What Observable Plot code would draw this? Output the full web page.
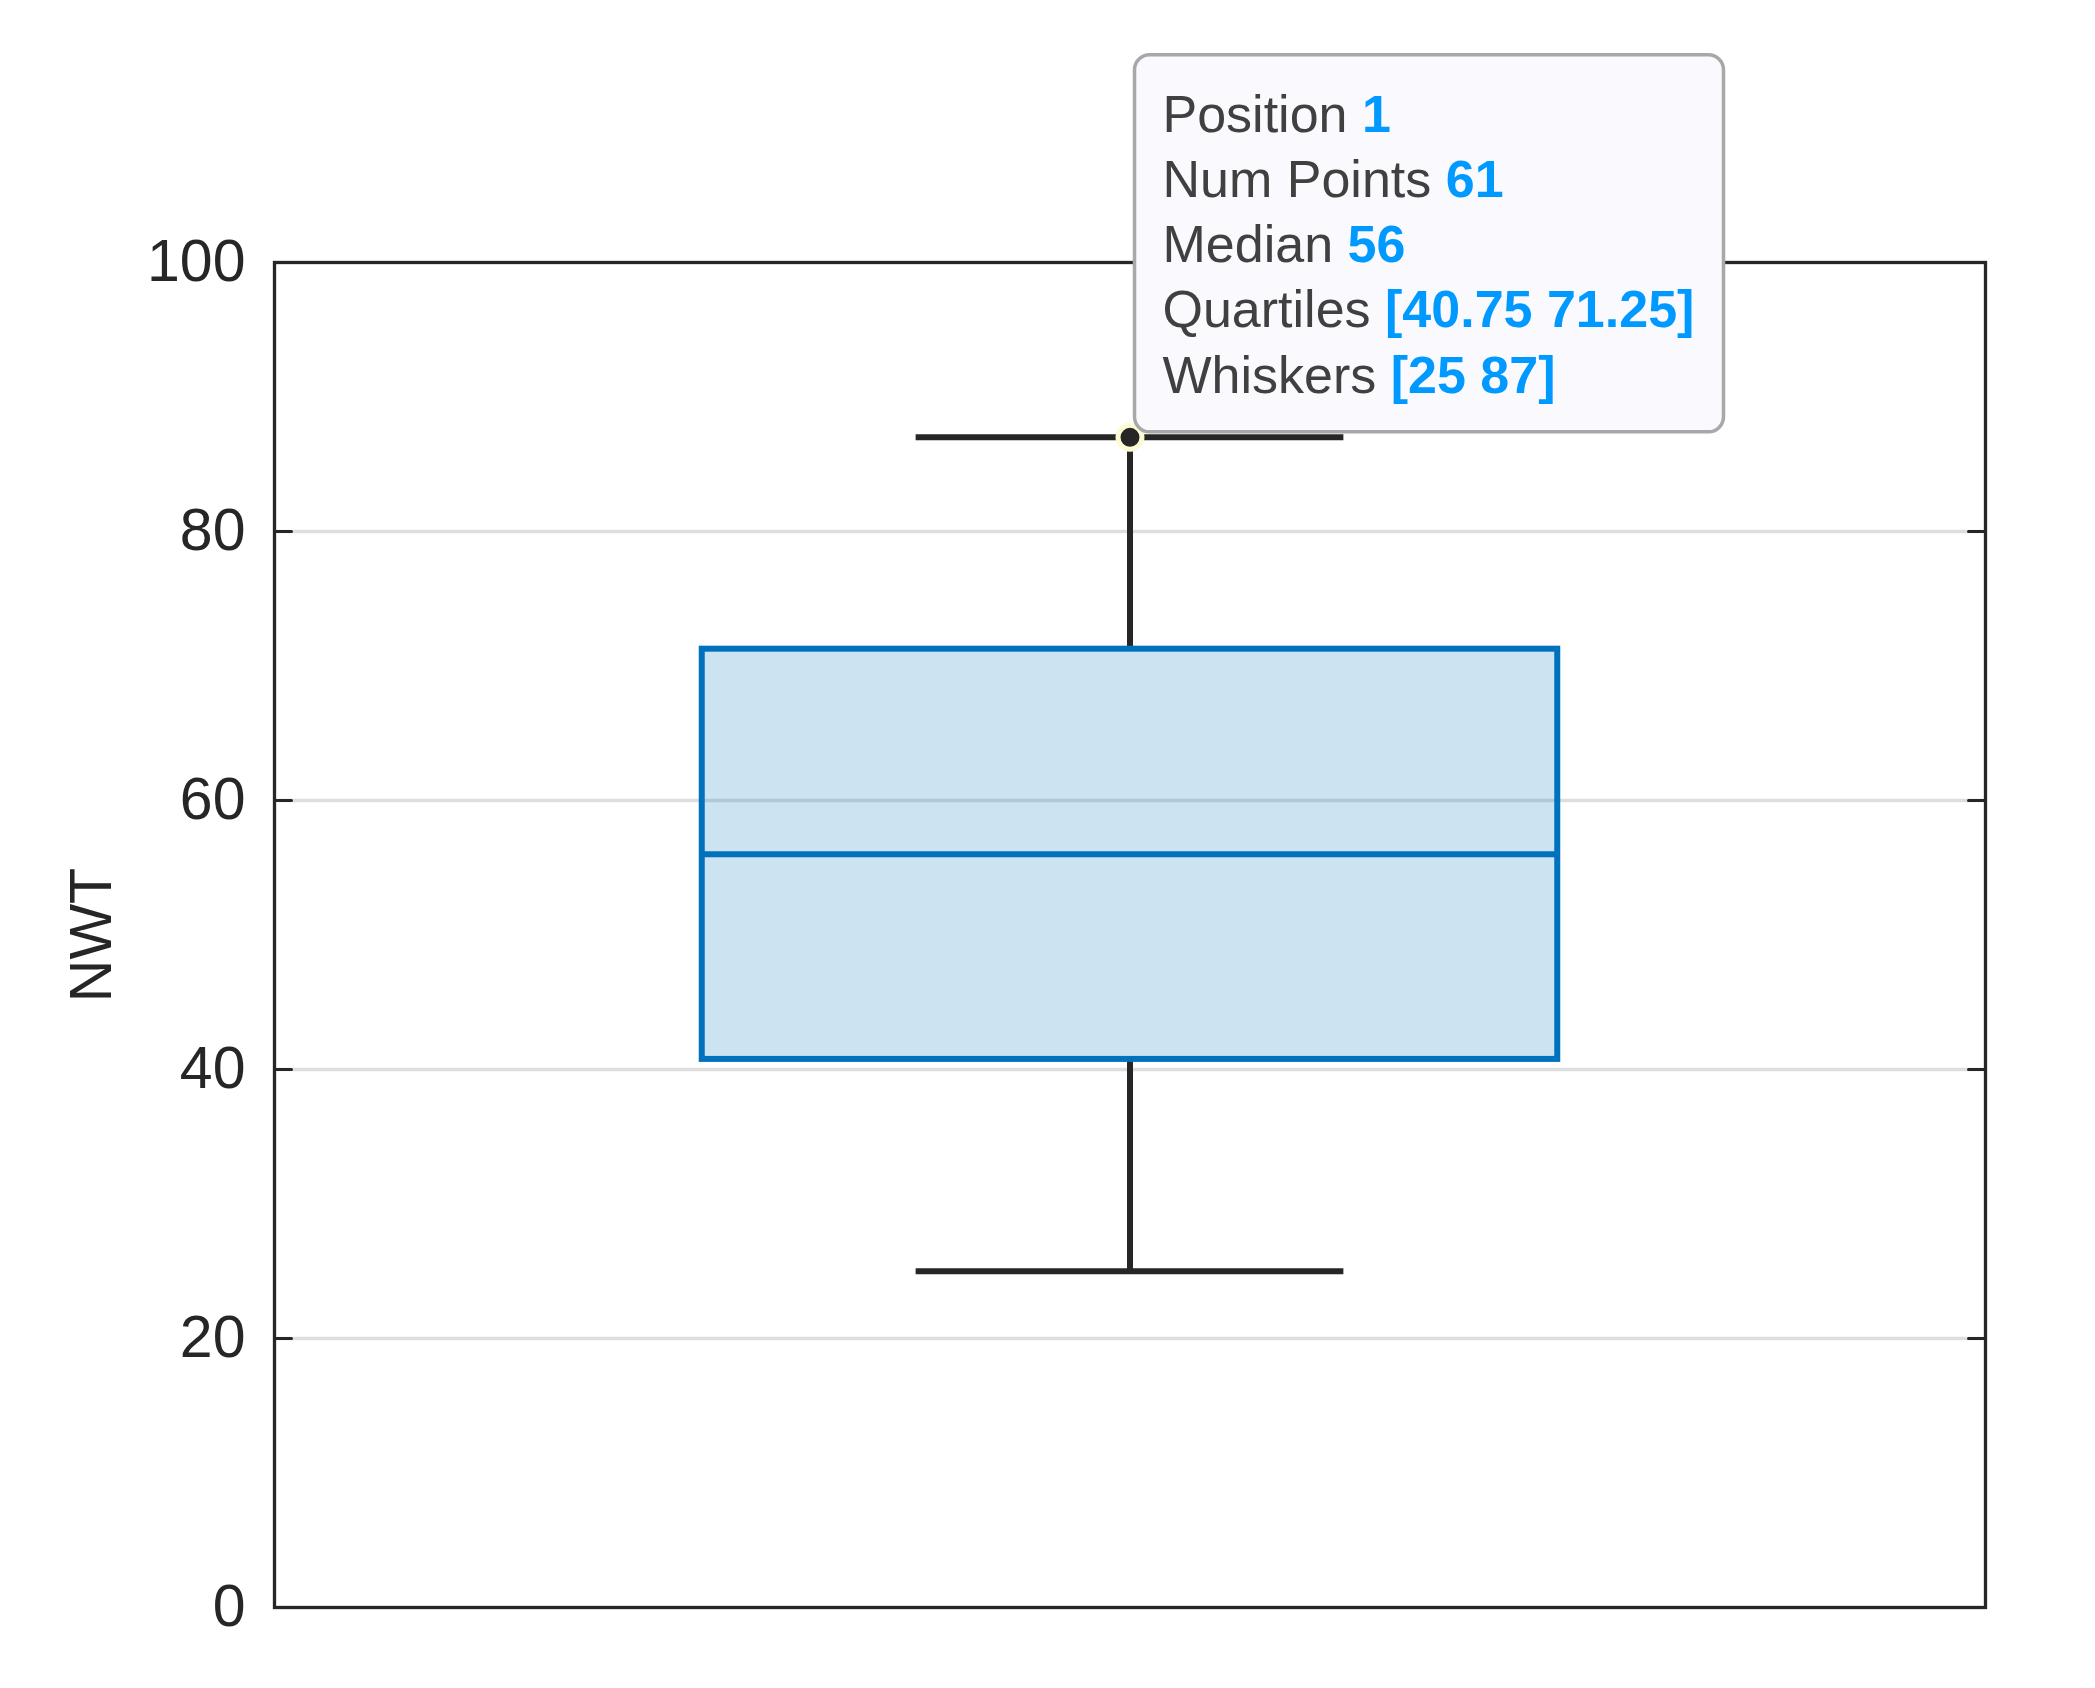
<!DOCTYPE html>
<html>
<head>
<meta charset="utf-8">
<script src="https://cdn.jsdelivr.net/npm/d3@7"></script>
<script src="https://cdn.jsdelivr.net/npm/@observablehq/plot@0.6"></script>
<style>
  html, body { margin: 0; padding: 0; background: #fff; overflow: hidden; }
  svg { display: block; }
</style>
</head>
<body>
<div id="chart"></div>
<script>
// ---- data ----
const positions = [1];
const numPoints = [61];
const medians = [56];
const quartileLow = [40.75];
const quartileHigh = [71.25];
const whiskerLow = [25];
const whiskerHigh = [87];
const yTicks = [0, 20, 40, 60, 80, 100];
const gridTicks = [20, 40, 60, 80];
const yLabel = "NWT";
const tipLabels = ["Position", "Num Points", "Median", "Quartiles", "Whiskers"];

const boxes = positions.map((p, i) => ({
  pos: p, n: numPoints[i], med: medians[i],
  q1: quartileLow[i], q3: quartileHigh[i], lo: whiskerLow[i], hi: whiskerHigh[i]
}));

const boxHalf = 0.25, capHalf = 0.125;
const font = "'Liberation Sans', Arial, Helvetica, sans-serif";
const dark = "#262626";
const blue = "#0072BD";

const tickShape = {draw(ctx, l) { ctx.moveTo(0, 0); ctx.lineTo(0, -l); }};

const plot = Plot.plot({
  width: 2095,
  height: 1688,
  marginLeft: 274,
  marginRight: 110,
  marginTop: 262,
  marginBottom: 81,
  style: {fontFamily: font, fontSize: "59px", color: dark, background: "#fff"},
  x: {domain: [0.5, 1.5], axis: null},
  y: {domain: [0, 100], label: null},
  marks: [
    Plot.ruleY(gridTicks, {stroke: "#dedede", strokeWidth: 3.5}),
    Plot.rect(boxes, {x1: d => d.pos - boxHalf, x2: d => d.pos + boxHalf, y1: "q1", y2: "q3",
      fill: blue, fillOpacity: 0.2}),
    Plot.ruleX(boxes, {x: "pos", y1: "q3", y2: "hi", stroke: dark, strokeWidth: 6}),
    Plot.ruleX(boxes, {x: "pos", y1: "lo", y2: "q1", stroke: dark, strokeWidth: 6}),
    Plot.ruleY(boxes, {y: "hi", x1: d => d.pos - capHalf, x2: d => d.pos + capHalf, stroke: dark, strokeWidth: 6}),
    Plot.ruleY(boxes, {y: "lo", x1: d => d.pos - capHalf, x2: d => d.pos + capHalf, stroke: dark, strokeWidth: 6}),
    Plot.rect(boxes, {x1: d => d.pos - boxHalf, x2: d => d.pos + boxHalf, y1: "q1", y2: "q3",
      fill: "none", stroke: blue, strokeWidth: 6}),
    Plot.ruleY(boxes, {y: "med", x1: d => d.pos - boxHalf, x2: d => d.pos + boxHalf, stroke: blue, strokeWidth: 6}),
    Plot.vector(yTicks.slice(1, -1), {x: 0.5, y: d => d, length: 17, rotate: 90, anchor: "start",
      shape: tickShape, stroke: dark, strokeWidth: 3}),
    Plot.vector(yTicks.slice(1, -1), {x: 1.5, y: d => d, length: 17, rotate: -90, anchor: "start",
      shape: tickShape, stroke: dark, strokeWidth: 3}),
    Plot.frame({stroke: dark, strokeWidth: 3.3}),
    Plot.axisY({ticks: yTicks, tickSize: 0, tickPadding: 29, fontSize: 59, fill: dark, label: null}),
    Plot.text([yLabel], {frameAnchor: "left", dx: -182, rotate: -90, fontSize: 59, fill: dark,
      textAnchor: "middle", lineAnchor: "middle"}),
    Plot.dot(boxes, {x: "pos", y: "hi", r: 12, fill: dark, stroke: "#fdfad6", strokeWidth: 5})
  ]
});

document.getElementById("chart").appendChild(plot);

// ---- data tip anchored to the upper whisker point ----
const b = boxes[0];
const tipValues = [String(b.pos), String(b.n), String(b.med), `[${b.q1} ${b.q3}]`, `[${b.lo} ${b.hi}]`];
const ax = plot.scale("x").apply(b.pos);
const ay = plot.scale("y").apply(b.hi);
const tipW = 589, tipH = 377;
const svg = d3.select(plot);
const g = svg.append("g").attr("transform", `translate(${ax + 5},${ay - 5 - tipH})`);
g.append("rect")
  .attr("x", 0).attr("y", 0).attr("width", tipW).attr("height", tipH)
  .attr("rx", 15).attr("ry", 15)
  .attr("fill", "#f9f9fe").attr("stroke", "#a8a8a8").attr("stroke-width", 3.5);
const t = g.append("g").attr("font-family", font).attr("font-size", 52).attr("text-anchor", "start");
tipLabels.forEach((lab, i) => {
  const txt = t.append("text").attr("x", 28).attr("y", 77 + i * 65.2).attr("text-anchor", "start");
  txt.append("tspan").attr("fill", "#404040").text(lab + " ");
  txt.append("tspan").attr("fill", "#0099ff").attr("font-weight", "bold").text(tipValues[i]);
});
</script>
</body>
</html>
